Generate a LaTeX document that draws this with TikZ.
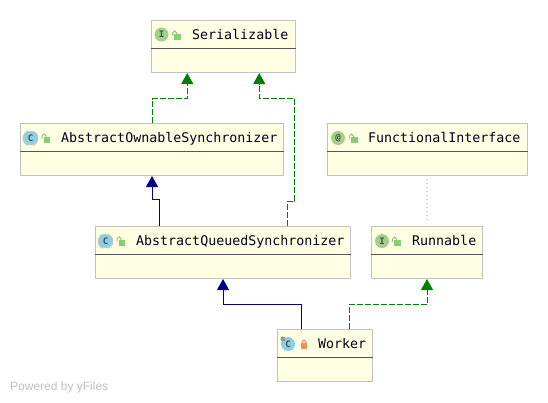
\documentclass[tikz,border=0pt]{standalone}
\usepackage{fontspec}
\setmainfont{Liberation Sans}
\setmonofont{DejaVu Sans Mono}
\usetikzlibrary{arrows.meta}
\definecolor{boxfill}{HTML}{FFFFE4}
\definecolor{boxedge}{HTML}{C2C2C2}
\definecolor{sepline}{HTML}{555555}
\definecolor{extblue}{HTML}{000080}
\definecolor{implgreen}{HTML}{008000}
\definecolor{iconblue}{HTML}{8AD0E0}
\definecolor{icongreen}{HTML}{A3D088}
\definecolor{lockgreen}{HTML}{8CCB70}
\definecolor{lockred}{HTML}{F28E5C}
\definecolor{noteline}{HTML}{B5AE8C}
\tikzset{
  classbox/.style={draw=boxedge,fill=boxfill,line width=1pt,minimum height=52pt,inner sep=0pt},
  sepbar/.style={draw=sepline,line width=1pt},
  classname/.style={anchor=base west,inner sep=0pt,font=\ttfamily\fontsize{13.3}{15}\selectfont,text=black!90!blue},
  iconletter/.style={circle,minimum size=14pt,inner sep=0pt,text=black!70,font=\ttfamily\bfseries\fontsize{9}{10}\selectfont},
  classicon/.style={iconletter,fill=iconblue},
  faceicon/.style={iconletter,fill=icongreen},
  extendsedge/.style={draw=extblue,line width=1pt,-{Triangle[width=12pt,length=11pt,fill=extblue]}},
  implementsedge/.style={draw=implgreen,line width=1pt,dash pattern=on 6pt off 2pt,-{Triangle[width=12pt,length=11pt,fill=implgreen]}},
  noteedge/.style={draw=noteline,line width=1pt,dash pattern=on 1pt off 3pt,shorten >=3pt,shorten <=3pt},
  openlock/.pic={
    \fill [lockgreen] (-3,0) rectangle (3.5,-5.5);
    \draw [lockgreen,line width=1pt] (-0.5,0) -- (-0.5,1.2) arc (0:180:1.9) -- (-4.3,-1.5);
  },
  shutlock/.pic={
    \fill [lockred] (-3,0) rectangle (3,-5.5);
    \draw [lockred,line width=1.2pt] (-1.9,0) -- (-1.9,1) arc (180:0:1.9) -- (1.9,0);
  }
}
\begin{document}
\begin{tikzpicture}[x=1pt,y=1pt]
\useasboundingbox (0,0) rectangle (548,-402);
% class boxes
\node [classbox,minimum width=144pt] (ser) at (223.25,-46.5) {};
\node [classbox,minimum width=263pt] (aos) at (152,-149.5) {};
\node [classbox,minimum width=200pt] (fun) at (427.25,-149.5) {};
\node [classbox,minimum width=255pt] (aqs) at (223,-252.5) {};
\node [classbox,minimum width=111pt] (run) at (427,-252.5) {};
\node [classbox,minimum width=95pt] (wrk) at (325,-355.5) {};
\draw [sepbar] ([yshift=-28pt]ser.north west) -- ([yshift=-28pt]ser.north east);
\draw [sepbar] ([yshift=-28pt]aos.north west) -- ([yshift=-28pt]aos.north east);
\draw [sepbar] ([yshift=-28pt]fun.north west) -- ([yshift=-28pt]fun.north east);
\draw [sepbar] ([yshift=-28pt]aqs.north west) -- ([yshift=-28pt]aqs.north east);
\draw [sepbar] ([yshift=-28pt]run.north west) -- ([yshift=-28pt]run.north east);
\draw [sepbar] ([yshift=-28pt]wrk.north west) -- ([yshift=-28pt]wrk.north east);
% titles
\node [classname] (sertext) at (192,-39) {Serializable};
\node [classname] (aostext) at (61,-142) {AbstractOwnableSynchronizer};
\node [classname] (funtext) at (368,-142) {FunctionalInterface};
\node [classname] (aqstext) at (136,-245) {AbstractQueuedSynchronizer};
\node [classname] (runtext) at (412,-245) {Runnable};
\node [classname] (wrktext) at (318,-348) {Worker};
% icons
\node [faceicon] (sericon) at (161.5,-34.5) {I};
\node [classicon] (aosicon) at (30.5,-138) {C};
\node [faceicon] (funicon) at (338,-138) {@};
\node [classicon] (aqsicon) at (105.5,-241) {C};
\node [faceicon] (runicon) at (382,-241) {I};
\node [classicon] (wrkicon) at (288,-344) {C};
\draw [boxedge,line width=1pt] (aosicon.110) arc (110:250:7.5);
\draw [boxedge,line width=1pt] (aosicon.70) arc (70:-70:7.5);
\draw [boxedge,line width=1pt] (aqsicon.110) arc (110:250:7.5);
\draw [boxedge,line width=1pt] (aqsicon.70) arc (70:-70:7.5);
\fill [gray!80] (wrkicon.135) circle (2.5);
\pic at (177,-34) {openlock};
\pic at (46.5,-137) {openlock};
\pic at (354,-137) {openlock};
\pic at (121.5,-240) {openlock};
\pic at (397,-240) {openlock};
\pic at (304,-343) {shutlock};
% connectors
\coordinate (serlow) at ([xshift=-36pt]ser.south);
\coordinate (serhigh) at ([xshift=36pt]ser.south);
\draw [implementsedge] (aos.north) |- (152.5,-98.5) -| (serlow);
\draw [implementsedge] ([xshift=64.5pt]aqs.north) -- ++(0,25) -- (294.5,-201) -- (294.5,-98.5) -| (serhigh);
\draw [extendsedge] ([xshift=-64pt]aqs.north) -- (159,-199) -- (152,-199) -- (aos.south);
\draw [extendsedge] ([xshift=-23.5pt]wrk.north) -- ++(0,25) -| (aqs.south);
\draw [implementsedge] ([xshift=24.5pt]wrk.north) -- ++(0,25) -| (run.south);
\draw [noteedge] (fun.south) -- (run.north);
% footer
\node [anchor=base west,inner sep=0pt,text=black!25,font=\fontsize{12}{14}\selectfont] (yfiles) at (10,-390) {Powered by yFiles};
\end{tikzpicture}
\end{document}
